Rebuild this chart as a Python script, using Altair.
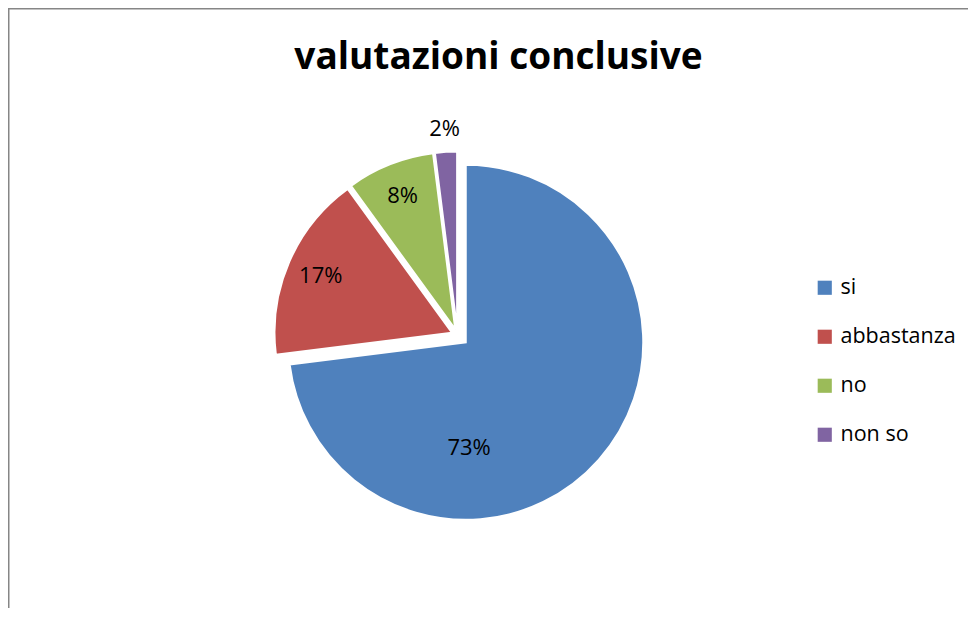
import math
import altair as alt
import pandas as pd

# ---- data ----
categories = ["si", "abbastanza", "no", "non so"]
values = [73, 17, 8, 2]
colors = ["#4F81BD", "#C0504D", "#9BBB59", "#8064A2"]
title_text = "valutazioni conclusive"

# ---- layout / style constants ----
W, H = 960, 600
CX, CY = 449.5, 327.0      # centre of the un-exploded pie (svg px)
R = 177.5                  # pie radius
EXPLODE = {"si": 11, "abbastanza": 6, "no": 6, "non so": 6}
LABEL_SHIFT = {"si": 13.0}  # Excel "best fit" moves the big label round (in % of circle)
FONT = "Open Sans"

df = pd.DataFrame({"cat": categories, "value": values, "order": list(range(len(values)))})

theta_scale = alt.Scale(domain=[0, 100], range=[0, 2 * math.pi])
color_scale = alt.Scale(domain=categories, range=colors)

base = alt.Chart(df).transform_window(
    cum="sum(value)", sort=[alt.SortField("order")], frame=[None, 0]
).transform_calculate(
    start="datum.cum - datum.value",
    mid="datum.cum - datum.value / 2",
    label="datum.value + '%'",
)

total = sum(values)
layers = []
cum = 0
for cat, val in zip(categories, values):
    mid_frac = (cum + val / 2) / total
    cum += val
    ang = mid_frac * 2 * math.pi
    e = EXPLODE[cat]
    x0 = CX + e * math.sin(ang)
    y0 = CY - e * math.cos(ang)
    part = base.transform_filter(alt.datum.cat == cat)
    arc = part.mark_arc(radius=R, stroke="white", strokeWidth=2).encode(
        theta=alt.Theta("start:Q", stack=None, scale=theta_scale),
        theta2="cum:Q",
        color=alt.Color(
            "cat:N",
            scale=color_scale,
            sort=categories,
            legend=alt.Legend(
                title=None,
                orient="none",
                legendX=806,
                legendY=269,
                symbolType="square",
                symbolSize=200,
                symbolStrokeWidth=0,
                labelFont=FONT,
                labelFontSize=21.5,
                labelColor="black",
                rowPadding=26,
                labelOffset=5,
                padding=0,
            ),
        ),
        x=alt.value(x0),
        y=alt.value(y0),
    )
    layers.append(arc)
    shift = LABEL_SHIFT.get(cat, 0)
    if cat == "si":
        rad = 106
    elif val < 5:
        rad = 200
    else:
        rad = 143
    txt = part.transform_calculate(lab=f"datum.mid + {shift}").mark_text(
        radius=rad, font=FONT, fontSize=22, color="black", align="center", baseline="middle"
    ).encode(
        theta=alt.Theta("lab:Q", stack=None, scale=theta_scale),
        text="label:N",
        x=alt.value(x0),
        y=alt.value(y0),
    )
    layers.append(txt)

title = alt.Chart(pd.DataFrame({"t": [title_text]})).mark_text(
    font=FONT, fontSize=37, fontWeight="bold", color="black", align="center", baseline="alphabetic"
).encode(text="t:N", x=alt.value(490.5), y=alt.value(61))

frame_left = alt.Chart(pd.DataFrame({"a": [0]})).mark_rule(color="#868686", strokeWidth=2).encode(
    x=alt.value(0.5), y=alt.value(0), y2=alt.value(H)
)
frame_top = alt.Chart(pd.DataFrame({"a": [0]})).mark_rule(color="#868686", strokeWidth=2).encode(
    x=alt.value(0), x2=alt.value(W), y=alt.value(0.5)
)

chart = alt.layer(*layers, title, frame_left, frame_top).properties(
    width=W, height=H, autosize=alt.AutoSizeParams(type="none"), padding=0, background="white"
).resolve_scale(theta="shared").configure_view(stroke=None)

chart.save("out.html", embed_options={"renderer": "svg", "actions": False})
